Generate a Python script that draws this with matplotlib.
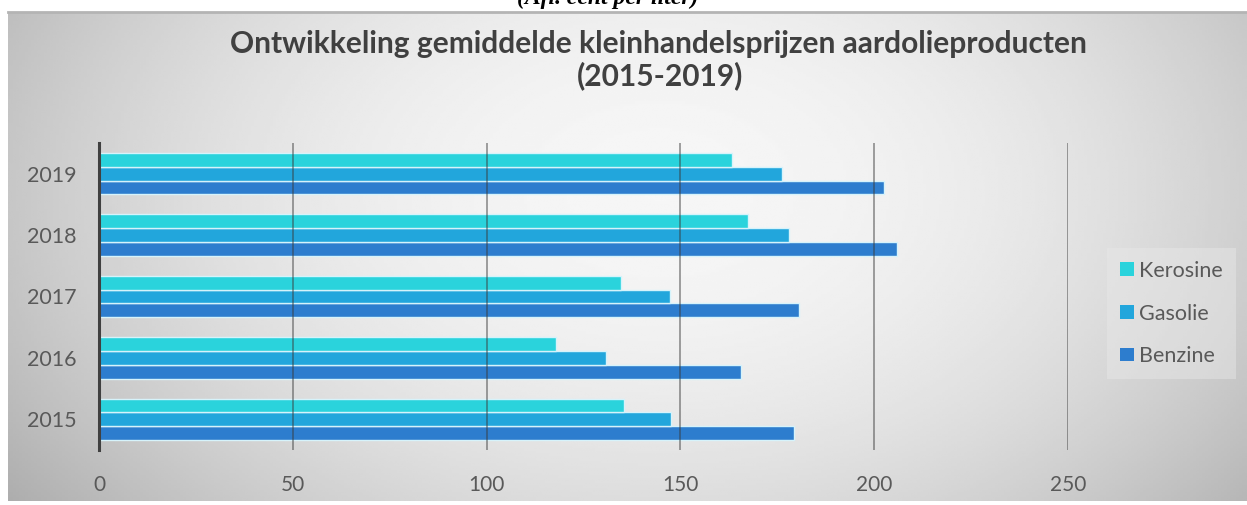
import numpy as np
import matplotlib
matplotlib.use("Agg")
import matplotlib.pyplot as plt
from matplotlib.patches import Patch

# ---- data ----
years = ["2015", "2016", "2017", "2018", "2019"]
benzine = [179.4, 165.6, 180.5, 205.8, 202.6]
gasolie = [147.6, 130.8, 147.4, 178.1, 176.2]
kerosine = [135.5, 117.9, 134.8, 167.4, 163.3]
series_names = ["Benzine", "Gasolie", "Kerosine"]
x_ticks = [0, 50, 100, 150, 200, 250]
title_line1 = "Ontwikkeling gemiddelde kleinhandelsprijzen aardolieproducten"
title_line2 = "(2015-2019)"
top_caption = "(Afl. cent per liter)"

colors = {"Benzine": "#2d7dce", "Gasolie": "#22a6dc", "Kerosine": "#2ad3dc"}

W, H = 1247, 505
fig = plt.figure(figsize=(W / 100, H / 100), dpi=100)
fig.patch.set_facecolor("white")

# ---- background panel with radial gradient ----
px0, px1, py0, py1 = 8, 1247, 12, 501
bg = fig.add_axes([px0 / W, 1 - py1 / H, (px1 - px0) / W, (py1 - py0) / H], zorder=-10)
xs = np.linspace(px0, px1, 400)
ys = np.linspace(py0, py1, 200)
X, Y = np.meshgrid(xs, ys)
u = (X - 660) / 640
v = (Y - 190) / 420
r2 = u ** 2 + v ** 2
val = np.clip(0.965 - 0.18 * r2, 0, 1)
bg.imshow(val, cmap="gray", vmin=0, vmax=1, aspect="auto",
          extent=[0, 1, 0, 1], origin="upper", interpolation="bilinear")
bg.plot([0, 1], [1, 1], color="#b4b4b4", lw=2, transform=bg.transAxes, clip_on=False)
bg.set_axis_off()

# ---- main axes ----
left, right = 99 / W, 1068 / W
bottom, top = 1 - 450 / H, 1 - 143 / H
ax = fig.add_axes([left, bottom, right - left, top - bottom])
ax.set_facecolor("none")

y = np.arange(len(years))
bh = 0.222
offs = {"Benzine": -0.225, "Gasolie": 0.0, "Kerosine": 0.225}
vals = {"Benzine": benzine, "Gasolie": gasolie, "Kerosine": kerosine}
for name in series_names:
    ax.barh(y + offs[name], vals[name], height=bh, color=colors[name],
            edgecolor="#d6f3fb", linewidth=1.0, zorder=2)

ax.set_xlim(0, 250)
ax.set_ylim(-0.5, len(years) - 0.5)
ax.set_xticks(x_ticks)
ax.set_xticklabels([str(t) for t in x_ticks])
ax.set_yticks(y)
ax.set_yticklabels(years)

for xt in x_ticks[1:]:
    ax.axvline(xt, color="#3a3a3a", alpha=0.55, lw=1.2, zorder=3)

for s in ["top", "right", "bottom"]:
    ax.spines[s].set_visible(False)
ax.spines["left"].set_color("#404040")
ax.spines["left"].set_linewidth(2.2)
ax.spines["left"].set_zorder(4)

ax.tick_params(axis="y", length=0, pad=16, labelsize=15.5, labelcolor="#595959")
ax.tick_params(axis="x", length=0, pad=18, labelsize=15, labelcolor="#595959")
for lab in ax.get_xticklabels() + ax.get_yticklabels():
    lab.set_fontfamily("Lato")

# ---- legend ----
handles = [Patch(facecolor=colors[n], edgecolor="none") for n in series_names[::-1]]
leg = fig.legend(handles, series_names[::-1], loc="center",
                 bbox_to_anchor=((1113 + 1230) / 2 / W, 1 - 313.5 / H),
                 frameon=True, fancybox=False, facecolor="#e9e9e9", edgecolor="none",
                 framealpha=0.45, prop={"family": "Lato", "size": 15.5},
                 labelspacing=1.05, handlelength=0.65, handleheight=0.6,
                 handletextpad=0.25, borderpad=0.6, labelcolor="#595959")

# ---- titles ----
fig.text(658 / W, 1 - 44 / H, title_line1, ha="center", va="center",
         fontsize=21.5, fontweight="bold", color="#404040", family="Lato")
fig.text(660 / W, 1 - 76 / H, title_line2, ha="center", va="center",
         fontsize=21.5, fontweight="bold", color="#404040", family="Lato")
fig.text(608 / W, 1 - 4 / H, top_caption, ha="center", va="baseline",
         fontsize=17, fontweight="bold", fontstyle="italic",
         family="Liberation Serif", color="black")

fig.savefig("out.png", dpi=100)
